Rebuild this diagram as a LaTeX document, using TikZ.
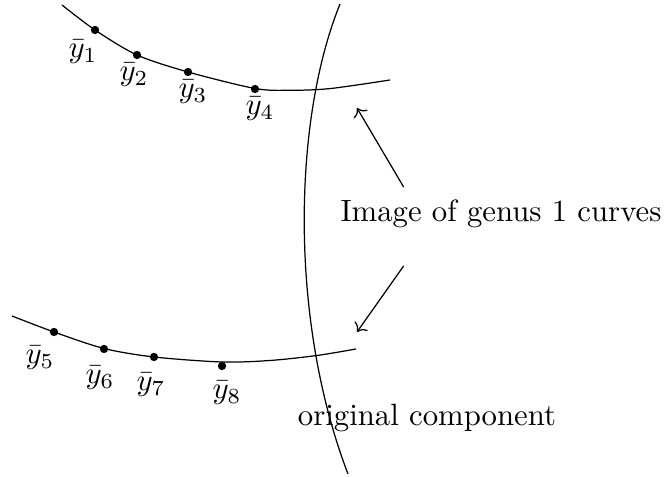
\documentclass[tikz,border=0pt]{standalone}
\usepackage{amsmath,amssymb}
\usetikzlibrary{arrows.meta, positioning, calc}

\begin{document}
\begin{tikzpicture}[x=0.325pt, y=-0.325pt,
    dot/.style={circle, fill, inner sep=0pt, minimum size=2.7pt}]
    \useasboundingbox (0,0) rectangle (668,477);
    % image curves and the original component
    \draw plot[smooth] coordinates {(62,5) (95,30) (137,55) (188,72) (255,88.5) (290,90.3) (330,88.6) (390,80)};
    \draw plot[smooth] coordinates {(12,316) (54,332) (104,348.5) (154,357) (222,362) (270,360.5) (317,355.5) (356,349)};
    \draw (340,4) .. controls (293,120) and (289,320) .. (348,474);
    \foreach \i/\x/\y/\lx/\ly in {1/95/30/83/52, 2/137/55/134/75, 3/188/72/193/92, 4/255/89/260/109,
        5/54/332/40/358, 6/104/349/100/378, 7/154/357/151/385, 8/222/366/227/393} {
        \node[dot] (y\i) at (\x,\y) {};
        \node (l\i) at (\lx,\ly) {$\bar{y}_\i$};
    }
    \node (img) at (501,214) {Image of genus 1 curves};
    \node (orig) at (427,418) {original component};
    \coordinate (t1) at (357,108);
    \coordinate (t2) at (357,332);
    \draw[->] ($(img.north west)+(74,-2)$) -- (t1);
    \draw[->] ($(img.south west)+(74,27)$) -- (t2);
\end{tikzpicture}
\end{document}
